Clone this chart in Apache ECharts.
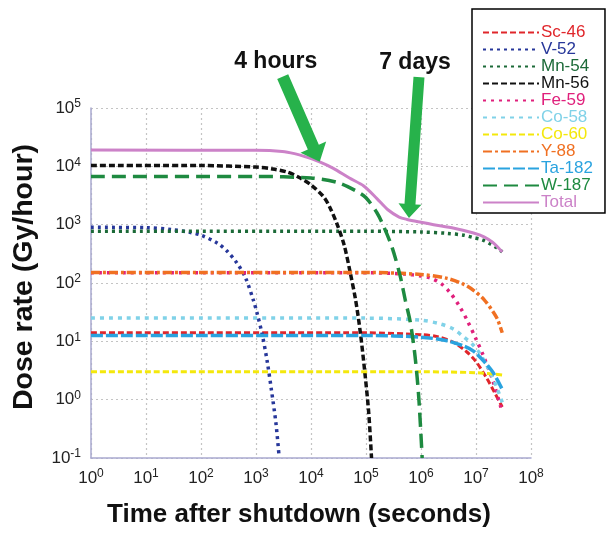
<!DOCTYPE html>
<html>
<head>
<meta charset="utf-8">
<script src="https://cdn.jsdelivr.net/npm/echarts@6/dist/echarts.min.js"></script>
<style>
  html, body { margin: 0; padding: 0; background: #fff; }
  #chart { width: 607px; height: 533px; }
</style>
</head>
<body>
<div id="chart"></div>
<script>
// Dose rate vs time after shutdown as [seconds, Gy/hour]
const sc46 = [[1, 14], [1e5, 14], [1e6, 13], [2e6, 12], [4e6, 9.5], [6.9e6, 6.5], [1e7, 4.5], [1.58e7, 2.3], [2.2e7, 1.3], [3e7, 0.75]];
const v52 = [[1, 900], [10, 890], [30, 820], [60, 745], [100, 660], [200, 480], [300, 350], [450, 220], [640, 125], [900, 50], [1050, 30], [1300, 13], [1600, 4.5], [1900, 1.5], [2300, 0.4], [2600, 0.12]];
const mn54 = [[1, 770], [1e5, 770], [1e6, 750], [3e6, 710], [6e6, 660], [9e6, 600], [1.3e7, 550], [1.8e7, 470], [2.4e7, 400], [3e7, 340]];
const mn56 = [[1, 10300], [100, 10300], [1000, 9700], [2000, 9000], [3650, 8000], [6000, 6500], [1e4, 4800], [1.7e4, 3000], [2.25e4, 1900], [3e4, 1000], [4e4, 450], [5.1e4, 160], [6.5e4, 50], [7.9e4, 14], [9.5e4, 3], [1.12e5, 0.6], [1.26e5, 0.1]];
const fe59 = [[1, 150], [1e5, 150], [5e5, 142], [1e6, 132], [1.48e6, 122], [2.3e6, 98], [3.4e6, 68], [5e6, 40], [6.9e6, 23], [1e7, 11], [1.38e7, 5.5], [2e7, 2.2], [2.8e7, 0.77], [3e7, 0.6]];
const co58 = [[1, 25], [1e5, 25], [1e6, 23], [2.2e6, 20], [4e6, 16], [5.9e6, 12], [8.5e6, 9], [1.2e7, 6], [1.8e7, 3], [2.4e7, 1.6], [3e7, 0.9]];
const co60 = [[1, 3], [1e6, 3], [1e7, 2.9], [3e7, 2.65]];
const y88 = [[1, 152], [1e5, 152], [1e6, 140], [3e6, 120], [6e6, 95], [9e6, 75], [1.4e7, 52], [2.1e7, 31], [2.5e7, 23], [3e7, 14]];
const ta182 = [[1, 12.6], [1e5, 12.6], [1e6, 11.8], [3e6, 10.2], [6e6, 8.3], [9e6, 6.8], [1.38e7, 4.6], [2e7, 3], [2.5e7, 2.1], [3e7, 1.5]];
const w187 = [[1, 6700], [1e3, 6700], [1e4, 6300], [3e4, 5300], [6.9e4, 3700], [1e5, 2900], [1.58e5, 1600], [2.09e5, 940], [3e5, 400], [4.2e5, 130], [5.2e5, 50], [6.4e5, 21], [7.8e5, 5.5], [9.1e5, 1.1], [1.05e6, 0.1]];
const total = [[1, 19000], [1000, 18800], [3000, 18000], [5000, 16500], [8000, 14500], [1.4e4, 12000], [2.5e4, 9300], [5e4, 6300], [9.1e4, 4600], [1.58e5, 2800], [2.5e5, 1800], [4e5, 1350], [5.6e5, 1230], [1e6, 1100], [1.7e6, 1000], [4e6, 870], [9e6, 720], [1.4e7, 620], [2e7, 500], [2.5e7, 410], [3e7, 340]];

const seriesNames = ['Sc-46', 'V-52', 'Mn-54', 'Mn-56', 'Fe-59', 'Co-58', 'Co-60', 'Y-88', 'Ta-182', 'W-187', 'Total'];
const seriesData = [sc46, v52, mn54, mn56, fe59, co58, co60, y88, ta182, w187, total];

// Annotations: label, time (s), dose at arrow tip
const notes = [
    { text: '4 hours', t: 14400, v: 12000 },
    { text: '7 days', t: 604800, v: 1300 }
];

const FONT = "Arial, 'Liberation Sans', sans-serif";

// line look per isotope
const styles = {
    'Sc-46':  { color: '#e0262b', type: [6, 3], width: 3 },
    'V-52':   { color: '#27379a', type: [3, 4], width: 3.5 },
    'Mn-54':  { color: '#1c6a38', type: [3, 4], width: 3.5 },
    'Mn-56':  { color: '#111111', type: [6, 3], width: 3.5 },
    'Fe-59':  { color: '#e0207c', type: [3, 5], width: 3.5 },
    'Co-58':  { color: '#80d2e8', type: [4, 5], width: 3.5 },
    'Co-60':  { color: '#f4e80c', type: [6, 3], width: 3 },
    'Y-88':   { color: '#f07022', type: [9, 3, 3, 3], width: 3.5 },
    'Ta-182': { color: '#2aa3df', type: [12, 3], width: 3.5 },
    'W-187':  { color: '#1e8a40', type: [14, 7], width: 3.5 },
    'Total':  { color: '#cc82c8', type: 'solid', width: 3 }
};

function powLabel(value) {
    const e = Math.round(Math.log10(value));
    return '{b|10}{s|' + e + '}';
}

const labelRich = {
    b: { fontSize: 17, fontFamily: FONT, color: '#222', lineHeight: 20 },
    s: { fontSize: 12, fontFamily: FONT, color: '#222', lineHeight: 12, verticalAlign: 'top' }
};

const chart = echarts.init(document.getElementById('chart'));

const option = {
    backgroundColor: '#fff',
    animation: false,
    grid: { left: 91, right: 76, top: 108, bottom: 75 },
    legend: {
        orient: 'vertical',
        left: 472,
        top: 9,
        width: 132,
        padding: [15, 12, 2, 10],
        backgroundColor: '#fff',
        borderColor: '#000',
        borderWidth: 1.5,
        itemWidth: 56,
        itemHeight: 12,
        itemGap: 0,
        itemStyle: { opacity: 0 },
        data: seriesNames.map(n => ({
            name: n,
            textStyle: { color: styles[n].color }
        })),
        textStyle: { fontSize: 17, fontFamily: FONT, lineHeight: 15, padding: [0, 0, 0, -3] }
    },
    xAxis: {
        type: 'log',
        logBase: 10,
        min: 1,
        max: 1e8,
        splitNumber: 8,
        name: 'Time after shutdown (seconds)',
        nameLocation: 'middle',
        nameGap: 44,
        nameTextStyle: { fontSize: 26, fontWeight: 'bold', fontFamily: FONT, color: '#111', padding: [0, 24, 0, 0] },
        axisLine: { lineStyle: { color: '#a9a9cf', width: 1.5 } },
        axisTick: { show: false },
        axisLabel: { formatter: powLabel, rich: labelRich, margin: 10 },
        splitLine: { show: true, lineStyle: { color: '#c4c4c4', type: [2, 3], width: 1.2 } }
    },
    yAxis: {
        type: 'log',
        logBase: 10,
        min: 0.1,
        max: 1e5,
        splitNumber: 6,
        name: 'Dose rate (Gy/hour)',
        nameLocation: 'middle',
        nameGap: 52,
        nameTextStyle: { fontSize: 28.5, fontWeight: 'bold', fontFamily: FONT, color: '#111', padding: [0, 0, 0, 12] },
        axisLine: { show: true, lineStyle: { color: '#a9a9cf', width: 1.5 } },
        axisTick: { show: false },
        axisLabel: { formatter: powLabel, rich: labelRich, margin: 10 },
        splitLine: { show: true, lineStyle: { color: '#c4c4c4', type: [2, 3], width: 1.2 } }
    },
    series: seriesNames.map((n, i) => ({
        name: n,
        type: 'line',
        data: seriesData[i],
        symbol: 'none',
        smooth: 0.3,
        z: n === 'Total' ? 3 : 2,
        itemStyle: { color: styles[n].color },
        lineStyle: { color: styles[n].color, type: styles[n].type, width: styles[n].width }
    }))
};

chart.setOption(option);

// Arrow polygon from tail to tip
function arrowShape(tip, tail, shaftW, headW, headL) {
    const dx = tip[0] - tail[0], dy = tip[1] - tail[1];
    const len = Math.hypot(dx, dy);
    const ux = dx / len, uy = dy / len;
    const px = -uy, py = ux;
    const bx = tip[0] - ux * headL, by = tip[1] - uy * headL;
    return [
        [tail[0] + px * shaftW / 2, tail[1] + py * shaftW / 2],
        [bx + px * shaftW / 2, by + py * shaftW / 2],
        [bx + px * headW / 2, by + py * headW / 2],
        tip,
        [bx - px * headW / 2, by - py * headW / 2],
        [bx - px * shaftW / 2, by - py * shaftW / 2],
        [tail[0] - px * shaftW / 2, tail[1] - py * shaftW / 2]
    ];
}

// tail offsets and label offsets relative to the tip
const arrowLook = [
    { tail: [-37, -85], shaftW: 12, headW: 28, headL: 16, label: [-44, -100] },
    { tail: [10, -141], shaftW: 11, headW: 23, headL: 14, label: [6, -155] }
];

const graphics = [];
notes.forEach((note, i) => {
    const tip = chart.convertToPixel({ xAxisIndex: 0, yAxisIndex: 0 }, [note.t, note.v]);
    const look = arrowLook[i];
    const tail = [tip[0] + look.tail[0], tip[1] + look.tail[1]];
    graphics.push({
        type: 'polygon',
        z: 50,
        shape: { points: arrowShape(tip, tail, look.shaftW, look.headW, look.headL) },
        style: { fill: '#27b24b' }
    });
    graphics.push({
        type: 'text',
        z: 50,
        x: tip[0] + look.label[0],
        y: tip[1] + look.label[1],
        style: {
            text: note.text,
            fontSize: 23,
            fontWeight: 'bold',
            fontFamily: FONT,
            fill: '#111',
            align: 'center',
            verticalAlign: 'middle'
        }
    });
});

chart.setOption({ graphic: graphics });

window.addEventListener('resize', () => chart.resize());
</script>
</body>
</html>
